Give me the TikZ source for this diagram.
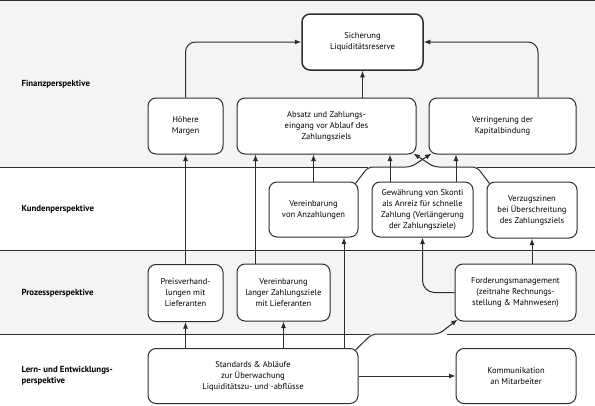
\documentclass[tikz,border=0pt]{standalone}
\usepackage{fontspec}
\setmainfont{PT Sans}
\usepackage{xcolor}
\definecolor{bandgray}{RGB}{244,244,244}
\definecolor{linegray}{RGB}{45,45,45}
\usetikzlibrary{arrows.meta,positioning,calc}
\tikzset{
  ebox/.style={draw=linegray, line width=1pt, rounded corners=8pt, fill=white,
               font=\fontsize{8.5}{11}\selectfont, align=center,
               minimum width=#1, minimum height=56pt, inner sep=2pt},
  topbox/.style={ebox=#1, line width=1.5pt},
  plabel/.style={font=\fontsize{8.8}{11}\selectfont\bfseries, align=left, anchor=west},
  conn/.style={draw=linegray, line width=1pt, -{Latex[length=6.5pt,width=5pt]}},
  band/.style={draw=linegray, line width=1pt},
}

\begin{document}
\begin{tikzpicture}[x=1pt, y=-1pt]
  \useasboundingbox (0,0) rectangle (595,405);
  % Bands
  \fill[bandgray] (0,0) rectangle (595,167);
  \fill[white] (0,167) rectangle (595,250);
  \fill[bandgray] (0,250) rectangle (595,334);
  \fill[white] (0,334) rectangle (595,405);
  \draw[band, line width=1.4pt] (0,0.7) -- (595,0.7);
  \draw[band] (0,167) -- (368,167);
  \draw[band] (477,167) -- (595,167);
  \draw[band] (0,250) -- (595,250);
  \draw[band] (0,334) -- (370,334);
  \draw[band] (447,334) -- (595,334);

  % Perspective labels
  \node[plabel] (lfin) at (18,84) {Finanzperspektive};
  \node[plabel] (lkun) at (18,209) {Kundenperspektive};
  \node[plabel] (lpro) at (18,293) {Prozessperspektive};
  \node[plabel] (llern) at (18,376) {Lern- und Entwicklungs-\\perspektive};

  % Finanzperspektive
  \node[topbox=121pt] (sich) at (362.5,42) {Sicherung\\Liquiditätsreserve};
  \node[ebox=75pt] (marg) at (185.5,126) {Höhere\\Margen};
  \node[ebox=179pt] (absatz) at (326.5,126) {Absatz und Zahlungs-\\eingang vor Ablauf des\\Zahlungsziels};
  \node[ebox=147pt] (kapital) at (502.5,126) {Verringerung der\\Kapitalbindung};

  % Kundenperspektive
  \node[ebox=89pt, minimum height=55pt] (anz) at (313.5,209.5) {Vereinbarung\\von Anzahlungen};
  \node[ebox=101pt, minimum height=55pt] (skonti) at (422.5,209.5) {Gewährung von Skonti\\als Anreiz für schnelle\\Zahlung (Verlängerung\\der Zahlungsziele)};
  \node[ebox=90pt] (zins) at (532,210) {Verzugszinen\\bei Überschreitung\\des Zahlungsziels};

  % Prozessperspektive
  \node[ebox=75pt, minimum height=57pt] (preis) at (185.5,293) {Preisverhand-\\lungen mit\\Lieferanten};
  \node[ebox=93pt, minimum height=57pt] (ziele) at (283.5,292.5) {Vereinbarung\\langer Zahlungsziele\\mit Lieferanten};
  \node[ebox=121pt, minimum height=57pt] (ford) at (515.5,292.5) {Forderungsmanagement\\(zeitnahe Rechnungs-\\stellung \& Mahnwesen)};

  % Lern- und Entwicklungsperspektive
  \node[ebox=210pt, minimum height=55pt] (std) at (253,376) {Standards \& Abläufe\\zur Überwachung\\Liquiditätszu- und -abflüsse};
  \node[ebox=120pt, minimum height=55pt] (komm) at (516,376) {Kommunikation\\an Mitarbeiter};

  % Connectors to Sicherung
  \draw[conn, rounded corners=10pt] (marg.north) |- (sich.west);
  \draw[conn] (absatz.north -| sich.south) -- (sich.south);
  \draw[conn, rounded corners=10pt] ([xshift=35.5pt]kapital.north) |- (sich.east);

  % Connectors to Finanz boxes
  \draw[conn] (preis.north) -- (marg.south);
  \draw[conn] ([xshift=-28pt]ziele.north) -- ([xshift=-28pt]ziele.north |- absatz.south);
  \draw[conn] (anz.north) -- (anz.north |- absatz.south);
  \draw[conn] ([xshift=-32.5pt]skonti.north) -- ([xshift=-32.5pt]skonti.north |- absatz.south);
  \draw[conn] ([xshift=33.5pt]skonti.north) -- ([xshift=33.5pt]skonti.north |- kapital.south);
  \draw[conn, rounded corners=5pt] ($(anz.north east)+(-3,2)$) -- (368,167) -- (411,167)
    -- ($(kapital.south west)+(3,-1)$);
  \draw[conn, rounded corners=5pt] ($(zins.north west)+(3,2)$) -- (477,167) -- (434,167)
    -- ($(absatz.south east)+(-3,-1)$);

  % Connectors to Kunden boxes
  \draw[conn] ([xshift=30.5pt]anz.south |- std.north) -- ([xshift=30.5pt]anz.south);
  \draw[conn, rounded corners=12pt] (ford.west) -| (skonti.south);
  \draw[conn] (zins.south |- ford.north) -- (zins.south);

  % Connectors from Standards
  \draw[conn] (std.north -| preis.south) -- (preis.south);
  \draw[conn] (std.north -| ziele.south) -- (ziele.south);
  \draw[conn, rounded corners=5pt] ($(std.north east)+(-3,2)$) -- (372,334) -- (439,334)
    -- ($(ford.south west)+(3,-2)$);
  \draw[conn] (std.east) -- (komm.west);
\end{tikzpicture}
\end{document}
